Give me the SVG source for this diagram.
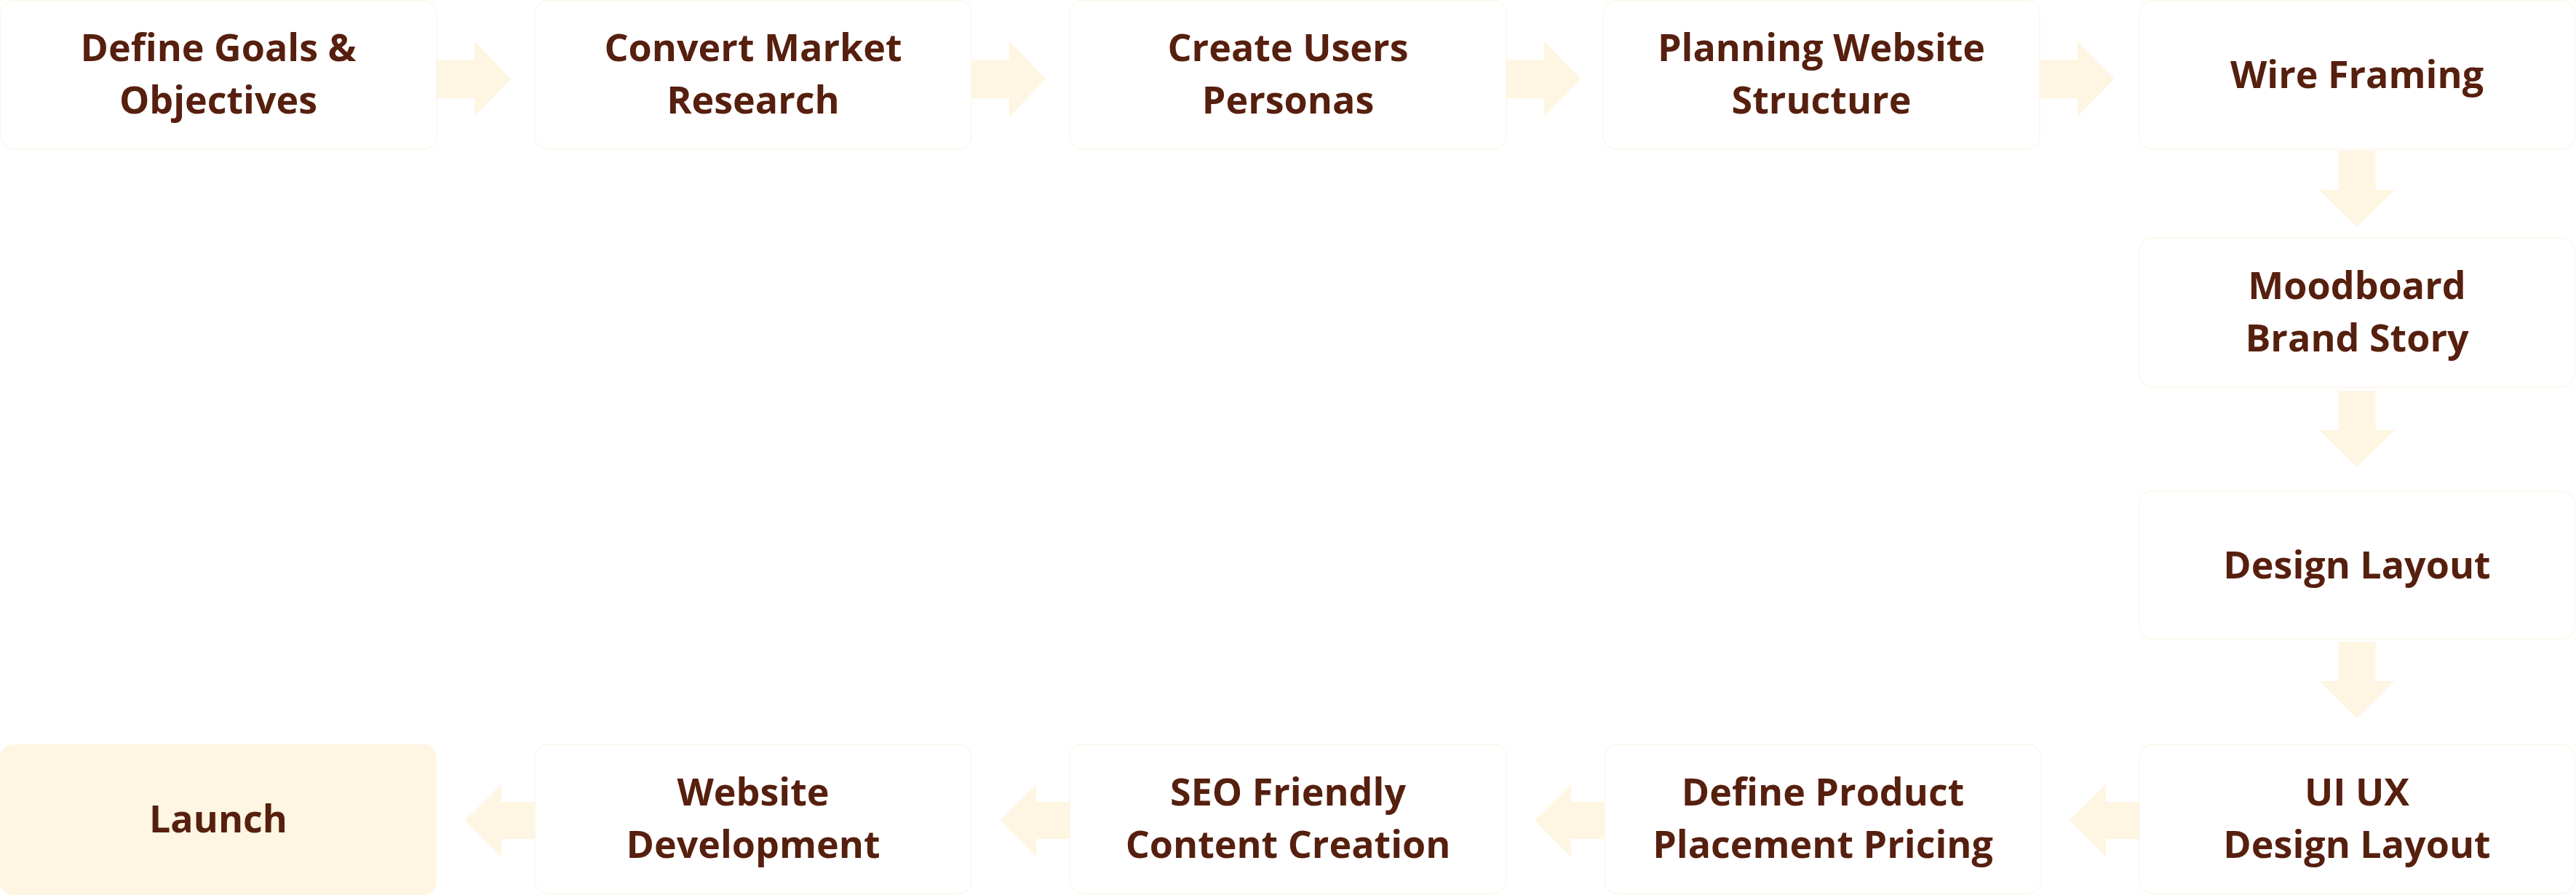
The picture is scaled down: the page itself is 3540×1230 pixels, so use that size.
<svg xmlns="http://www.w3.org/2000/svg" width="3540" height="1230" viewBox="0 0 3540 1230">
<defs>
<style>
.box{fill:#ffffff;stroke:#fdf6ea;stroke-width:1.5}
.final{fill:#fef5e3;stroke:none}
.arr{fill:#fef5e3}
text{font-family:"Open Sans","Noto Sans","Liberation Sans",sans-serif;font-weight:700;font-size:52px;fill:#561f0e;text-anchor:middle}
</style>
<path id="ar" d="M0,-26.5 H52 V-52 L102,0 L52,52 V26.5 H0 Z"/>
<path id="al" d="M0,-25.5 H-46 V-50 L-96,0 L-46,50 V25.5 H0 Z"/>
<path id="ad" d="M-25.5,0 V54 H-52 L0,105 L52,54 H25.5 V0 Z"/>
</defs>
<rect width="3540" height="1230" fill="#ffffff"/>

<g id="connectors" class="arr">
<use href="#ar" x="600" y="108.5"/>
<use href="#ar" x="1335" y="108.5"/>
<use href="#ar" x="2070" y="108.5"/>
<use href="#ar" x="2803" y="108.5"/>
<use href="#ad" x="3239" y="207"/>
<use href="#ad" x="3239" y="537"/>
<use href="#ad" x="3239" y="882"/>
<use href="#al" x="2940" y="1127.5"/>
<use href="#al" x="2205" y="1127.5"/>
<use href="#al" x="1470" y="1127.5"/>
<use href="#al" x="735" y="1127.5"/>
</g>

<g id="n1"><rect class="box" x="1" y="1" width="599" height="204" rx="18"/><text x="300" y="84">Define Goals &amp;</text><text x="300" y="156">Objectives</text></g>
<g id="n2"><rect class="box" x="735" y="1" width="600" height="204" rx="18"/><text x="1035" y="84">Convert Market</text><text x="1035" y="156">Research</text></g>
<g id="n3"><rect class="box" x="1470" y="1" width="600" height="204" rx="18"/><text x="1770" y="84">Create Users</text><text x="1770" y="156">Personas</text></g>
<g id="n4"><rect class="box" x="2203" y="1" width="600" height="204" rx="18"/><text x="2503" y="84">Planning Website</text><text x="2503" y="156">Structure</text></g>
<g id="n5"><rect class="box" x="2940" y="1" width="598" height="204" rx="18"/><text x="3239" y="121">Wire Framing</text></g>
<g id="n6"><rect class="box" x="2940" y="327" width="598" height="205" rx="18"/><text x="3239" y="411">Moodboard</text><text x="3239" y="483">Brand Story</text></g>
<g id="n7"><rect class="box" x="2940" y="675" width="598" height="203" rx="18"/><text x="3239" y="795">Design Layout</text></g>
<g id="n8"><rect class="box" x="2940" y="1023" width="598" height="205" rx="18"/><text x="3239" y="1107">UI UX</text><text x="3239" y="1179">Design Layout</text></g>
<g id="n9"><rect class="box" x="2205" y="1023" width="600" height="205" rx="18"/><text x="2505" y="1107">Define Product</text><text x="2505" y="1179">Placement Pricing</text></g>
<g id="n10"><rect class="box" x="1470" y="1023" width="600" height="205" rx="18"/><text x="1770" y="1107">SEO Friendly</text><text x="1770" y="1179">Content Creation</text></g>
<g id="n11"><rect class="box" x="735" y="1023" width="600" height="205" rx="18"/><text x="1035" y="1107">Website</text><text x="1035" y="1179">Development</text></g>
<g id="n12"><rect class="final" x="0" y="1023" width="600" height="207" rx="18"/><text x="300" y="1144">Launch</text></g>
</svg>
